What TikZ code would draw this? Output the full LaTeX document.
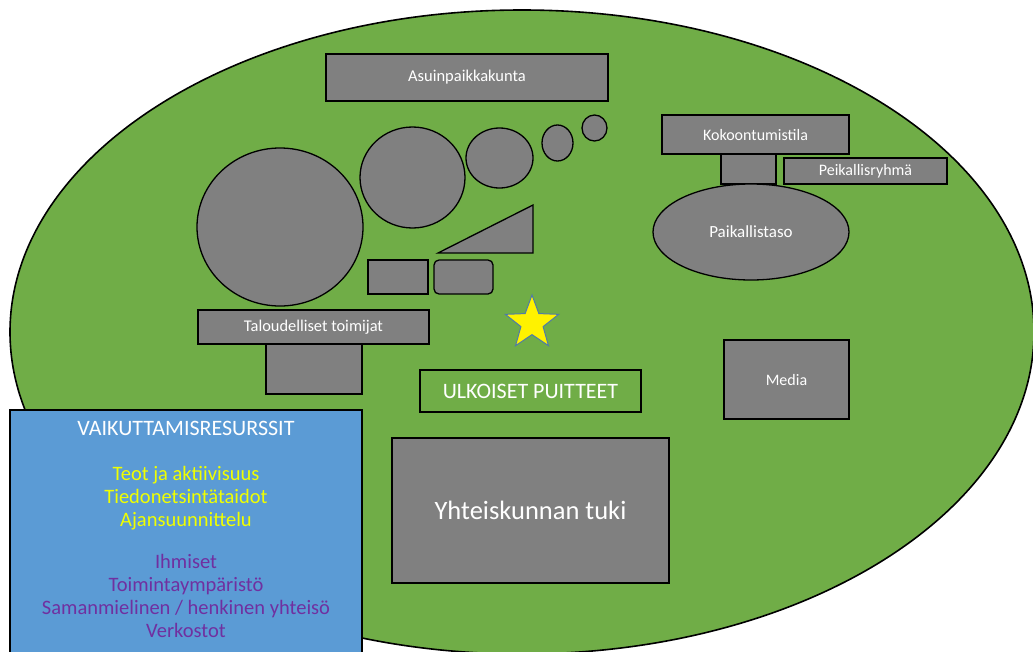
\documentclass[tikz,border=0pt]{standalone}
\usepackage{fontspec}
\setmainfont{Carlito}
\usepackage{xcolor}
\usetikzlibrary{shapes.geometric}
\definecolor{ruoho}{HTML}{70AD47}
\definecolor{harmaa}{HTML}{808080}
\definecolor{sininen}{HTML}{5B9BD5}
\definecolor{violetti}{HTML}{7030A0}
\definecolor{keltainen}{HTML}{F0FF00}
\definecolor{tahtireuna}{HTML}{4F7BA8}
\begin{document}
\begin{tikzpicture}[x=1pt,y=-1pt,
	laatikko/.style={draw=black,line width=1.3pt,fill=harmaa,inner sep=0pt,outer sep=0pt,text=white},
	pallo/.style={ellipse,draw=black,line width=1.3pt,fill=harmaa,inner sep=0pt,outer sep=0pt,text=white}]
	\useasboundingbox (0,0) rectangle (1033,651);
	% ulkoinen ympyra
	\draw[fill=ruoho,line width=1.6pt] (522,332) ellipse [x radius=512,y radius=322];
	\node[laatikko,minimum width=282,minimum height=47,font=\fontsize{16.5}{19}\selectfont] (asuin) at (467,77.5) {Asuinpaikkakunta};
	% pallot
	\node[pallo,minimum width=166,minimum height=158] (pallo1) at (280,227) {};
	\node[pallo,minimum width=105,minimum height=101] (pallo2) at (412.5,177.5) {};
	\node[pallo,minimum width=67,minimum height=60] (pallo3) at (499.5,158) {};
	\node[pallo,minimum width=31,minimum height=36] (pallo4) at (557.5,143) {};
	\node[pallo,minimum width=25,minimum height=26] (pallo5) at (594.5,128) {};
	\draw[fill=harmaa,line width=1.3pt] (438,253) -- (533,205) -- (533,253) -- cycle;
	\node[laatikko,minimum width=60,minimum height=34] (pieni1) at (398,277) {};
	\node[laatikko,rounded corners=5pt,minimum width=59,minimum height=34] (pieni2) at (463.5,277) {};
	% paikallistaso
	\node[laatikko,minimum width=55,minimum height=30] (jalka1) at (748.5,169) {};
	\node[laatikko,minimum width=187,minimum height=39,font=\fontsize{16}{19}\selectfont] (koko) at (755.5,134.5) {Kokoontumistila};
	\node[laatikko,minimum width=163,minimum height=26,font=\fontsize{16}{19}\selectfont] (ryhma) at (865.5,171) {Peikallisryhmä};
	\node[pallo,minimum width=196,minimum height=96,font=\fontsize{17}{20}\selectfont] (taso) at (751,232) {Paikallistaso};
	% taloudelliset
	\node[laatikko,minimum width=96,minimum height=50] (jalka2) at (314,369) {};
	\node[laatikko,minimum width=231,minimum height=34,font=\fontsize{16.4}{19}\selectfont] (talous) at (313.5,327) {Taloudelliset toimijat};
	\node[laatikko,minimum width=125,minimum height=79,font=\fontsize{16}{19}\selectfont] (media) at (786.5,379.5) {Media};
	\node[star,star points=5,star point ratio=2.4,minimum size=56,inner sep=0pt,fill=yellow,draw=tahtireuna,line width=1pt] (tahti) at (532,323) {};
	\node[laatikko,fill=ruoho,minimum width=221,minimum height=42,font=\fontsize{22}{26}\selectfont] (puitteet) at (530.5,391) {ULKOISET PUITTEET};
	\node[laatikko,minimum width=277,minimum height=145,font=\fontsize{26.5}{30}\selectfont] (tuki) at (530.5,510.5) {Yhteiskunnan tuki};
	% resurssit
	\node[laatikko,fill=sininen,minimum width=352,minimum height=270] (resurssit) at (186,545) {};
	\node[anchor=north,align=center,inner sep=0pt,font=\fontsize{20.5}{22.7}\selectfont] (resteksti) at (186,421) {%
		\textcolor{white}{\fontsize{22}{22.7}\selectfont VAIKUTTAMISRESURSSIT}\\[22.7pt]
		\textcolor{keltainen}{Teot ja aktiivisuus}\\
		\textcolor{keltainen}{Tiedonetsintätaidot}\\
		\textcolor{keltainen}{Ajansuunnittelu}\\[20pt]
		\textcolor{violetti}{Ihmiset}\\
		\textcolor{violetti}{Toimintaympäristö}\\
		\textcolor{violetti}{Samanmielinen / henkinen yhteisö}\\
		\textcolor{violetti}{Verkostot}};
\end{tikzpicture}
\end{document}
